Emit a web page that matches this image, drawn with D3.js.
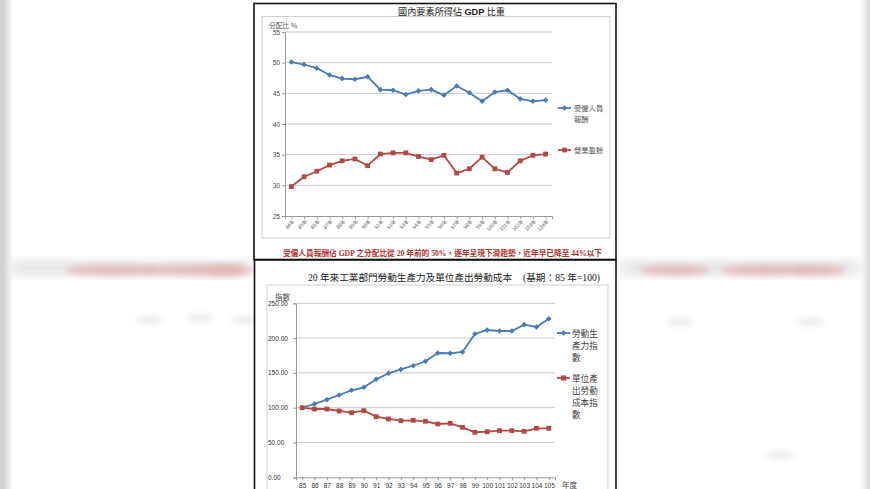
<!DOCTYPE html>
<html><head><meta charset="utf-8">
<script src="https://cdn.jsdelivr.net/npm/d3@7"></script>
<style>html,body{margin:0;padding:0;background:#fff;overflow:hidden}</style>
</head><body>
<svg id="c" width="870" height="489"></svg>
<script>
// ---- data: top chart (國內要素所得佔 GDP 比重) ----
const topYears = ["84年","85年","86年","87年","88年","89年","90年","91年","92年","93年","94年","95年","96年","97年","98年","99年","100年","101年","102年","103年","104年"];
const compensation = [50.1,49.7,49.1,48.0,47.4,47.3,47.7,45.6,45.5,44.8,45.4,45.6,44.7,46.2,45.1,43.7,45.2,45.5,44.1,43.7,43.9];
const operatingSurplus = [29.8,31.4,32.3,33.3,34.0,34.3,33.2,35.1,35.3,35.3,34.7,34.2,34.9,32.0,32.7,34.6,32.7,32.1,34.0,34.9,35.1];
const topTicks = [25,30,35,40,45,50,55];
const topSeriesNames = [["受僱人員","報酬"],["營業盈餘"]];

// ---- data: bottom chart (勞動生產力 / 單位產出勞動成本) ----
const botYears = ["85","86","87","88","89","90","91","92","93","94","95","96","97","98","99","100","101","102","103","104","105"];
const productivity = [100,105.3,111.5,118.2,125,129.3,140.8,149.4,155,160.3,166.7,178.6,178.2,180,205.9,211.6,210.2,210.2,219.3,216,227.9];
const unitLaborCost = [100,98.1,98.1,95.3,92.8,95.7,87.1,83.8,81.3,81.9,80.5,76.6,77.6,71.8,64.7,65.5,67,67,66.1,70.4,70.4];
const botTicks = [0,50,100,150,200,250];
const botSeriesNames = [["勞動生","產力指","數"],["單位產","出勞動","成本指","數"]];

const BLUE = "#4a7cb3", RED = "#b24944";
const svg = d3.select("#c");
const SANS = "'Noto Sans CJK TC','Liberation Sans',sans-serif";
const SERIF = "'Liberation Serif','Noto Sans CJK TC',serif";

// ---- blurred background ----
const defs = svg.append("defs");
defs.append("filter").attr("id","bl").attr("x","-50%").attr("y","-50%").attr("width","200%").attr("height","200%")
  .append("feGaussianBlur").attr("stdDeviation",6);
defs.append("filter").attr("id","bl2").attr("x","-50%").attr("y","-50%").attr("width","200%").attr("height","200%")
  .append("feGaussianBlur").attr("stdDeviation",3);
const bg = svg.append("g");
bg.append("rect").attr("x",-6).attr("y",-20).attr("width",14).attr("height",530).attr("fill","#cfcfcf").attr("filter","url(#bl2)");
bg.append("rect").attr("x",865).attr("y",-20).attr("width",14).attr("height",530).attr("fill","#d8d8d8").attr("filter","url(#bl2)");
bg.append("rect").attr("x",10).attr("y",262).attr("width",240).attr("height",12).attr("fill","#e0e0e0").attr("filter","url(#bl)");
bg.append("rect").attr("x",620).attr("y",262).attr("width",240).attr("height",12).attr("fill","#e0e0e0").attr("filter","url(#bl)");
[[65,95],[140,115],[205,40],[640,70],[720,90],[790,55]].forEach(([x,w])=>{
  bg.append("ellipse").attr("cx",x+w/2).attr("cy",270).attr("rx",w/2).attr("ry",5).attr("fill","#e3b9b9").attr("filter","url(#bl2)");
});
[[150,320],[200,318],[245,320],[680,322],[810,322],[780,455]].forEach(([x,y])=>{
  bg.append("ellipse").attr("cx",x).attr("cy",y).attr("rx",14).attr("ry",4).attr("fill","#ececec").attr("filter","url(#bl2)");
});

// ---- panels ----
svg.append("rect").attr("x",254).attr("y",3.5).attr("width",362).attr("height",256).attr("fill","#fff").attr("stroke","#111").attr("stroke-width",1.6);
svg.append("rect").attr("x",254.5).attr("y",260).attr("width",361.5).attr("height",240).attr("fill","#fff").attr("stroke","#111").attr("stroke-width",1.6);
svg.append("rect").attr("x",262).attr("y",16.5).attr("width",348).attr("height",221.5).attr("fill","none").attr("stroke","#cfcfcf");
svg.append("rect").attr("x",267).attr("y",285).attr("width",341).attr("height",230).attr("fill","none").attr("stroke","#cfcfcf");

function diamond(s){return `M0,${-s}L${s},0L0,${s}L${-s},0Z`;}

// ================= TOP CHART =================
{
  const x = d3.scalePoint().domain(topYears).range([285,552]).padding(0.5);
  const y = d3.scaleLinear().domain([25,55]).range([216,32]);
  const g = svg.append("g");
  g.append("text").attr("x",398).attr("y",15).attr("font-family",SERIF).attr("font-size",9.3).attr("fill","#222")
    .attr("textLength",107).attr("lengthAdjust","spacingAndGlyphs")
    .html("國內要素所得佔 <tspan font-family=\"'Liberation Sans',sans-serif\" font-weight='bold'>GDP</tspan> 比重");
  g.append("text").attr("x",269).attr("y",27.5).attr("font-family",SANS).attr("font-size",6.8).attr("fill","#555").text("分配比 %");
  // grid
  g.selectAll("line.gr").data(topTicks.filter(d=>d>25)).join("line")
    .attr("x1",285).attr("x2",552).attr("y1",d=>y(d)).attr("y2",d=>y(d)).attr("stroke","#c4c4c4").attr("stroke-width",0.9);
  const ya = g.append("g").attr("transform","translate(285,0)")
    .call(d3.axisLeft(y).tickValues(topTicks).tickSize(3).tickFormat(d3.format("d")));
  ya.select(".domain").attr("stroke","#9a9a9a");
  ya.selectAll(".tick line").attr("stroke","#9a9a9a");
  ya.selectAll("text").attr("font-family","'Liberation Sans',sans-serif").attr("font-size",6.3).attr("fill","#444").attr("x",-5);
  const xa = g.append("g").attr("transform","translate(0,216)")
    .call(d3.axisBottom(x).tickSize(3));
  xa.select(".domain").attr("stroke","#9a9a9a");
  xa.selectAll(".tick line").attr("stroke","#9a9a9a");
  xa.selectAll("text").attr("font-family",SANS).attr("font-size",5).attr("fill","#555")
    .attr("text-anchor","end").attr("dy",0).attr("y",0).attr("transform","translate(3,6) rotate(-45)");
  const series = [[compensation,BLUE,"d"],[operatingSurplus,RED,"s"]];
  series.forEach(([vals,col,m])=>{
    const line = d3.line().x((d,i)=>x(topYears[i])).y(d=>y(d));
    g.append("path").attr("d",line(vals)).attr("fill","none").attr("stroke",col).attr("stroke-width",1.8);
    g.selectAll(null).data(vals).join("path")
      .attr("transform",(d,i)=>`translate(${x(topYears[i])},${y(d)})`)
      .attr("d", m==="d"?diamond(2.8):"M-2.4,-2.4H2.4V2.4H-2.4Z").attr("fill",col);
  });
  // legend
  const leg = [[108,BLUE,"d"],[150,RED,"s"]];
  leg.forEach(([ly,col,m],k)=>{
    g.append("line").attr("x1",558).attr("x2",571).attr("y1",ly).attr("y2",ly).attr("stroke",col).attr("stroke-width",1.8);
    g.append("path").attr("transform",`translate(564.5,${ly})`).attr("d",m==="d"?diamond(2.8):"M-2.4,-2.4H2.4V2.4H-2.4Z").attr("fill",col);
    topSeriesNames[k].forEach((t,j)=>{
      g.append("text").attr("x",574).attr("y",ly+3+j*10.5).attr("font-family",SANS).attr("font-size",7.3).attr("fill","#555").text(t);
    });
  });
  g.append("text").attr("x",283).attr("y",256).attr("font-family",SERIF).attr("font-size",7.8).attr("font-weight","bold").attr("fill","#b3322c")
    .attr("textLength",319).attr("lengthAdjust","spacingAndGlyphs")
    .text("受僱人員報酬佔 GDP 之分配比從 20 年前的 50%，逐年呈現下滑趨勢，近年早已降至 44%以下");
}

// ================= BOTTOM CHART =================
{
  const x = d3.scalePoint().domain(botYears).range([296,555]).padding(0.5);
  const y = d3.scaleLinear().domain([0,250]).range([477.3,303.3]);
  const g = svg.append("g");
  g.append("text").attr("x",308).attr("y",281).attr("font-family",SERIF).attr("font-size",9.6).attr("fill","#222")
    .attr("textLength",204).attr("lengthAdjust","spacingAndGlyphs")
    .text("20 年來工業部門勞動生產力及單位產出勞動成本");
  g.append("text").attr("x",523).attr("y",281).attr("font-family",SERIF).attr("font-size",9.6).attr("fill","#222")
    .attr("textLength",77).attr("lengthAdjust","spacingAndGlyphs")
    .text("(基期：85 年=100)");
  g.append("text").attr("x",275).attr("y",299.5).attr("font-family",SANS).attr("font-size",7.5).attr("fill","#444").text("指數");
  g.selectAll("line.gr").data(botTicks.filter(d=>d>0)).join("line")
    .attr("x1",296).attr("x2",555).attr("y1",d=>y(d)).attr("y2",d=>y(d)).attr("stroke","#c4c4c4").attr("stroke-width",0.9);
  const ya = g.append("g").attr("transform","translate(296,0)")
    .call(d3.axisLeft(y).tickValues(botTicks).tickSize(3).tickFormat(d3.format(".2f")));
  ya.select(".domain").attr("stroke","#9a9a9a");
  ya.selectAll(".tick line").attr("stroke","#9a9a9a");
  ya.selectAll("text").attr("font-family","'Liberation Sans',sans-serif").attr("font-size",6.5).attr("fill","#333")
    .attr("text-anchor","start").attr("x",-28);
  const xa = g.append("g").attr("transform","translate(0,477.3)")
    .call(d3.axisBottom(x).tickSize(3));
  xa.select(".domain").attr("stroke","#9a9a9a");
  xa.selectAll(".tick line").attr("stroke","#9a9a9a");
  xa.selectAll("text").attr("font-family","'Liberation Sans',sans-serif").attr("font-size",6.5).attr("fill","#333").attr("dy",0).attr("y",10.5);
  g.append("text").attr("x",562).attr("y",487.5).attr("font-family",SANS).attr("font-size",7.5).attr("fill","#444").text("年度");
  const series = [[productivity,BLUE,"d"],[unitLaborCost,RED,"s"]];
  series.forEach(([vals,col,m])=>{
    const line = d3.line().x((d,i)=>x(botYears[i])).y(d=>y(d));
    g.append("path").attr("d",line(vals)).attr("fill","none").attr("stroke",col).attr("stroke-width",1.8);
    g.selectAll(null).data(vals).join("path")
      .attr("transform",(d,i)=>`translate(${x(botYears[i])},${y(d)})`)
      .attr("d", m==="d"?diamond(2.8):"M-2.4,-2.4H2.4V2.4H-2.4Z").attr("fill",col);
  });
  const leg = [[333,BLUE,"d"],[378,RED,"s"]];
  leg.forEach(([ly,col,m],k)=>{
    g.append("line").attr("x1",557).attr("x2",570).attr("y1",ly).attr("y2",ly).attr("stroke",col).attr("stroke-width",1.8);
    g.append("path").attr("transform",`translate(563.5,${ly})`).attr("d",m==="d"?diamond(2.8):"M-2.6,-2.6H2.6V2.6H-2.6Z").attr("fill",col);
    botSeriesNames[k].forEach((t,j)=>{
      g.append("text").attr("x",572).attr("y",ly+3.5+j*12).attr("font-family",SANS).attr("font-size",8.6).attr("fill","#444").text(t);
    });
  });
}
</script>
</body></html>
